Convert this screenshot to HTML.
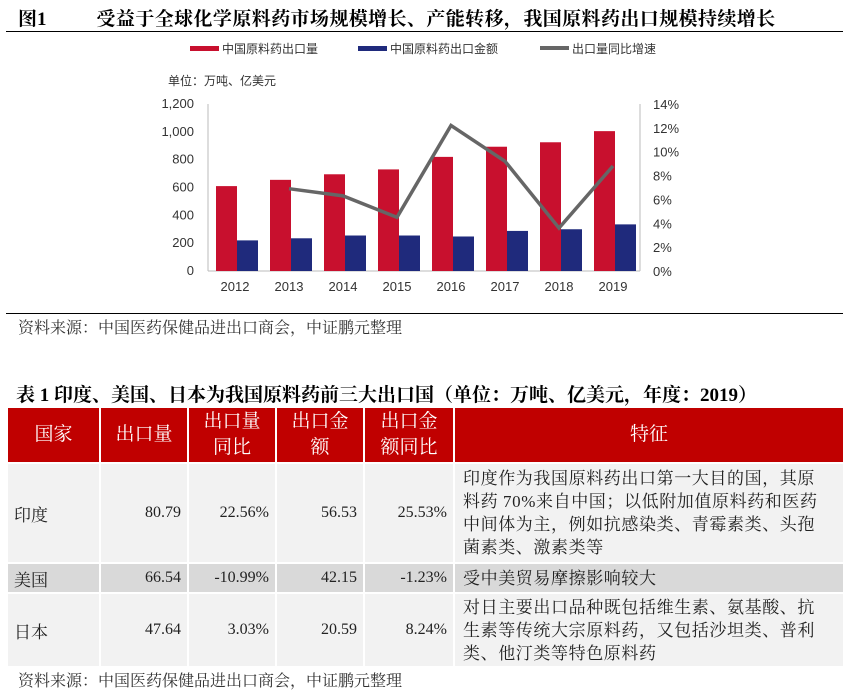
<!DOCTYPE html>
<html><head><meta charset="utf-8">
<style>
body{margin:0;width:849px;height:692px;background:#fff;position:relative;overflow:hidden;font-family:"Liberation Serif","Noto Serif CJK SC",serif;}
.a{position:absolute;}
.title{font-weight:bold;font-size:19px;color:#000;white-space:nowrap;}
.src{font-size:16px;color:#333;white-space:nowrap;}
table{position:absolute;left:6px;top:406px;border-collapse:separate;border-spacing:2px;font-size:16px;}
th{background:#c00000;color:#fff;font-weight:normal;font-size:19px;line-height:26px;height:54px;padding:0;}
td{padding:0 6px;color:#222;}
.g1 td{background:#f2f2f2;}
.g2 td{background:#d9d9d9;}
.g3 td{background:#f2f2f2;}
.n{text-align:right;}
.c{font-size:17px;}
.f{line-height:23px;font-size:17px;letter-spacing:0.6px;padding:0 4px 0 8px;}
</style></head><body>
<div class="a title" style="left:18px;top:4px;">图1<span style="margin-left:50px;letter-spacing:0.4px">受益于全球化学原料药市场规模增长、产能转移，我国原料药出口规模持续增长</span></div>
<div class="a" style="left:6px;top:31px;width:837px;height:1px;background:#000"></div>
<svg class="a" style="left:0;top:0" width="849" height="310" font-family="Liberation Sans, Noto Sans CJK SC, sans-serif">
<g id="legend" font-size="12" fill="#333">
<rect x="190" y="46" width="29" height="5" fill="#c8102e"/><text x="222" y="53">中国原料药出口量</text>
<rect x="358" y="46" width="29" height="5" fill="#1f2a7c"/><text x="390" y="53">中国原料药出口金额</text>
<rect x="540" y="46" width="29" height="4" fill="#666"/><text x="572" y="53">出口量同比增速</text>
</g>
<text x="168" y="85" font-size="12" fill="#333">单位：万吨、亿美元</text>
<g id="plot"></g>
</svg>
<div class="a" style="left:6px;top:313px;width:837px;height:1px;background:#000"></div>
<div class="a src" style="left:18px;top:315px;">资料来源：中国医药保健品进出口商会，中证鹏元整理</div>
<div class="a title" style="left:16px;top:380px;">表 1 印度、美国、日本为我国原料药前三大出口国（单位：万吨、亿美元，年度：2019）</div>
<table>
<tr><th style="width:91px">国家</th><th style="width:86px">出口量</th><th style="width:86px">出口量<br>同比</th><th style="width:86px">出口金<br>额</th><th style="width:88px">出口金<br>额同比</th><th style="width:388px">特征</th></tr>
<tr class="g1" style="height:98px"><td class="c">印度</td><td class="n">80.79</td><td class="n">22.56%</td><td class="n">56.53</td><td class="n">25.53%</td><td class="f">印度作为我国原料药出口第一大目的国，其原<br>料药 70%来自中国；以低附加值原料药和医药<br>中间体为主，例如抗感染类、青霉素类、头孢<br>菌素类、激素类等</td></tr>
<tr class="g2" style="height:28px"><td class="c">美国</td><td class="n">66.54</td><td class="n">-10.99%</td><td class="n">42.15</td><td class="n">-1.23%</td><td class="f">受中美贸易摩擦影响较大</td></tr>
<tr class="g3" style="height:72px"><td class="c">日本</td><td class="n">47.64</td><td class="n">3.03%</td><td class="n">20.59</td><td class="n">8.24%</td><td class="f">对日主要出口品种既包括维生素、氨基酸、抗<br>生素等传统大宗原料药，又包括沙坦类、普利<br>类、他汀类等特色原料药</td></tr>
</table>
<div class="a src" style="left:18px;top:668px;">资料来源：中国医药保健品进出口商会，中证鹏元整理</div>
<script>
const years=["2012","2013","2014","2015","2016","2017","2018","2019"];
const volume=[610,655,695,730,820,893,925,1005];
const value=[220,235,255,255,248,288,300,335];
const growth=[null,6.9,6.3,4.5,12.2,9.2,3.6,8.8];
const leftTicks=[0,200,400,600,800,1000,1200];
const rightTicks=[0,2,4,6,8,10,12,14];
const NS="http://www.w3.org/2000/svg";
const g=document.getElementById('plot');
const x0=208,x1=640,y0=271,y1=104;
const yL=v=>y0-(v/1200)*(y0-y1);
const yR=v=>y0-(v/14)*(y0-y1);
const bw=(x1-x0)/years.length;
const xc=i=>x0+bw*(i+0.5);
function mk(t,a){const e=document.createElementNS(NS,t);for(const k in a)e.setAttribute(k,a[k]);g.appendChild(e);return e;}
let ax=mk('line',{x1:x0,y1:y0,x2:x1,y2:y0,stroke:'#bbb'});


let la=mk('line',{x1:x0,y1:y1,x2:x0,y2:y0,stroke:'#bbb'});


let ra=mk('line',{x1:x1,y1:y1,x2:x1,y2:y0,stroke:'#bbb'});


leftTicks.forEach(v=>{const t=mk('text',{x:194,y:yL(v)+4,'text-anchor':'end','font-size':13,fill:'#333'});t.textContent=v.toLocaleString('en-US');

});
rightTicks.forEach(v=>{const t=mk('text',{x:653,y:yR(v)+5,'font-size':13,fill:'#333'});t.textContent=v+'%';

});
years.forEach((y,i)=>{
const c=xc(i);
const r=mk('rect',{x:c-19,y:yL(volume[i]),width:21,height:y0-yL(volume[i]),fill:'#c8102e'});


const b=mk('rect',{x:c+2,y:yL(value[i]),width:21,height:y0-yL(value[i]),fill:'#1f2a7c'});


const t=mk('text',{x:c,y:291,'text-anchor':'middle','font-size':13,fill:'#333'});t.textContent=y;


});
const pts=growth.map((v,i)=>v==null?null:xc(i)+','+yR(v)).filter(p=>p);
const pl=mk('polyline',{points:pts.join(' '),fill:'none',stroke:'#666','stroke-width':3.5});


</script>
</body></html>
